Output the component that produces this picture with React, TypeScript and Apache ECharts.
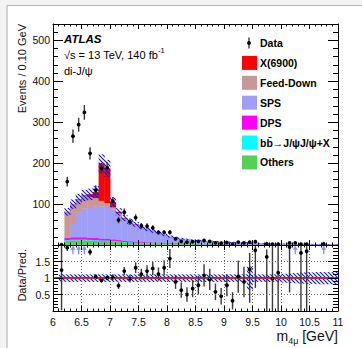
import React, { useEffect, useRef } from 'react';
import * as echarts from 'echarts';

const FONT = '"Liberation Sans", Arial, Helvetica, sans-serif';

// ---- axis ranges ----
const X_MIN = 6;
const X_MAX = 11;
const Y_MAX = 540;
const R_MIN = 0;
const R_MAX = 2;
const BIN_WIDTH = 0.1;

// ---- histogram bins (lower edges, GeV) ----
const binLow = [6.1, 6.2, 6.3, 6.4, 6.5, 6.6, 6.7, 6.8, 6.9, 7.0, 7.1, 7.2, 7.3, 7.4, 7.5, 7.6, 7.7, 7.8, 7.9, 8.0,
  8.1, 8.2, 8.3, 8.4, 8.5, 8.6, 8.7, 8.8, 8.9, 9.0, 9.1, 9.2, 9.3, 9.4, 9.5, 9.6, 9.7, 9.8, 9.9, 10.0,
  10.1, 10.2, 10.3, 10.4, 10.5, 10.6, 10.7, 10.8, 10.9];

// ---- stacked predictions (events / bin) ----
const others = [0.3, 11, 12, 12, 12, 11.5, 11, 10.5, 10, 9.5, 8.5, 7, 6, 5.5, 5, 4.6, 4.3, 4, 3.7, 3.4,
  3.2, 3, 2.8, 2.6, 2.5, 2.3, 2.2, 2.1, 2, 1.9, 1.8, 1.7, 1.6, 1.5, 1.4, 1.3, 1.3, 1.2, 1.1, 1.1,
  1.0, 1.0, 0.9, 0.9, 0.8, 0.8, 0.7, 0.7, 0.7];
const bbbar = [0.1, 1.5, 1.8, 1.8, 1.8, 1.7, 1.6, 1.5, 1.4, 1.3, 1.2, 1.1, 1.0, 0.9, 0.85, 0.8, 0.75, 0.7, 0.65, 0.6,
  0.55, 0.5, 0.48, 0.45, 0.42, 0.4, 0.38, 0.36, 0.34, 0.32, 0.3, 0.28, 0.27, 0.26, 0.25, 0.24, 0.23, 0.22, 0.21, 0.2,
  0.19, 0.18, 0.17, 0.16, 0.15, 0.15, 0.14, 0.14, 0.13];
const dps = [0.1, 5, 5.5, 5.5, 5.5, 5, 5, 4.5, 4, 3.5, 3, 2.6, 2.3, 2, 1.8, 1.6, 1.4, 1.3, 1.2, 1.1,
  1, 0.9, 0.85, 0.8, 0.75, 0.7, 0.65, 0.6, 0.58, 0.55, 0.52, 0.5, 0.48, 0.46, 0.44, 0.42, 0.4, 0.38, 0.36, 0.35,
  0.34, 0.32, 0.3, 0.3, 0.28, 0.27, 0.26, 0.25, 0.24];
const sps = [0.2, 2, 35, 60, 70, 73, 77, 78, 78, 73, 63, 53, 47, 42, 36, 32, 28, 23, 19.5, 16,
  13.5, 11.3, 10, 8.6, 7.7, 7, 6.2, 5.9, 5.3, 4.8, 4.5, 4.1, 3.7, 3.3, 3.0, 2.6, 2.4, 2.1, 1.9, 1.7,
  1.6, 1.4, 1.3, 1.2, 1.1, 1.0, 0.9, 0.85, 0.7];
const feedDown = [0.3, 62, 46, 33, 31, 27, 21, 14, 10, 5.5, 3, 1.5, 0.8, 0.4, 0.2, 0, 0, 0, 0, 0,
  0, 0, 0, 0, 0, 0, 0, 0, 0, 0, 0, 0, 0, 0, 0, 0, 0, 0, 0, 0,
  0, 0, 0, 0, 0, 0, 0, 0, 0];
const x6900 = [0, 0, 0, 0.3, 1, 6, 14, 91, 84, 12, 2.5, 1, 0.6, 0.3, 0.2, 0, 0, 0, 0, 0,
  0, 0, 0, 0, 0, 0, 0, 0, 0, 0, 0, 0, 0, 0, 0, 0, 0, 0, 0, 0,
  0, 0, 0, 0, 0, 0, 0, 0, 0];
// relative total uncertainty (half width) per bin
const bandRel = [0.11, 0.11, 0.11, 0.11, 0.11, 0.11, 0.11, 0.11, 0.11, 0.11, 0.11, 0.11, 0.11, 0.11, 0.11, 0.11, 0.11, 0.11, 0.11, 0.11,
  0.11, 0.11, 0.11, 0.11, 0.11, 0.11, 0.11, 0.11, 0.11, 0.11, 0.11, 0.11, 0.11, 0.35, 0.11, 0.11, 0.11, 0.11, 0.12, 0.13,
  0.14, 0.15, 0.16, 0.17, 0.17, 0.18, 0.18, 0.18, 0.18];

// ---- data ----
const dataX = [6.15, 6.25, 6.35, 6.45, 6.55, 6.65, 6.75, 6.85, 6.95, 7.05, 7.15, 7.25, 7.35, 7.45, 7.55, 7.65, 7.75, 7.85, 7.95, 8.05,
  8.15, 8.25, 8.35, 8.45, 8.55, 8.65, 8.75, 8.85, 8.95, 9.05, 9.15, 9.25, 9.35, 9.45, 9.55, 9.75, 9.85, 9.95, 10.15, 10.25,
  10.35, 10.45, 10.75];
const dataY = [1, 155, 266, 294, 324, 224, 134, 187, 189, 107, 61, 80, 57, 67, 47, 46, 42, 31, 31, 31,
  15, 9, 7, 8, 9, 11, 9, 5, 4, 6, 2, 7, 5, 7, 8, 3, 2, 2, 5, 5,
  2, 2, 3];
const dataErr = [1, 12, 16, 17, 18, 15, 12, 14, 14, 10, 8, 9, 8, 8, 7, 7, 6.5, 5.5, 5.5, 5.5,
  4, 3, 2.6, 2.8, 3, 3.3, 3, 2.2, 2, 2.4, 1.4, 2.6, 2.2, 2.6, 2.8, 1.7, 1.4, 1.4, 2.2, 2.2,
  1.4, 1.4, 1.7];

// ---- ratio panel ----
const ratioX = [6.15, 6.25, 6.65, 6.75, 6.85, 6.95, 7.05, 7.15, 7.25, 7.35, 7.45, 7.55, 7.65, 7.75, 7.85, 7.95, 8.05, 8.15, 8.25, 8.35,
  8.45, 8.55, 8.65, 8.75, 8.85, 8.95, 9.05, 9.15, 9.25, 9.35, 9.45, 9.55, 9.75, 9.85, 9.95, 10.15, 10.35, 10.45];
const ratioY = [1.24, 1.92, 1.79, 1.04, 0.93, 1.0, 1.02, 0.77, 1.21, 0.98, 1.31, 1.12, 1.21, 1.29, 1.12, 1.31, 1.59, 0.88, 0.63, 0.5,
  0.68, 0.78, 1.08, 0.96, 0.58, 0.45, 0.78, 0.31, 1.04, 0.88, 1.26, 1.84, 1.64, 0.98, 1.16, 1.94, 1.76, 1.81];
const ratioLo = [0.02, 1.82, 1.69, 0.97, 0.86, 0.93, 0.93, 0.67, 1.09, 0.86, 1.15, 0.96, 1.03, 1.09, 0.92, 1.08, 1.3, 0.67, 0.4, 0.28,
  0.42, 0.5, 0.74, 0.64, 0.33, 0.2, 0.45, 0.05, 0.55, 0.42, 0.25, 0.7, 0, 0, 0, 0.56, 0, 0];
const ratioHi = [2.2, 2.02, 1.89, 1.11, 1.0, 1.07, 1.11, 0.87, 1.33, 1.1, 1.47, 1.28, 1.39, 1.49, 1.32, 1.54, 1.88, 1.09, 0.86, 0.72,
  0.94, 1.06, 1.42, 1.28, 0.83, 0.7, 1.11, 0.57, 1.53, 1.34, 1.76, 2.6, 1.86, 2.6, 2.6, 2.6, 2.6, 2.6];
const ratioOverflowX = [6.35, 6.45, 6.55, 10.25, 10.75];

// ---- legend / labels ----
const legendItems = [
  { label: 'X(6900)', color: '#ff0000' },
  { label: 'Feed-Down', color: '#c99797' },
  { label: 'SPS', color: '#9f9ff7' },
  { label: 'DPS', color: '#ff00ff' },
  { label: 'bb\u0304\u2192J/\u03c8J/\u03c8+X', color: '#00ffff' },
  { label: 'Others', color: '#55cf55' },
];

const stackDefs = [
  { values: others, color: '#55cf55' },
  { values: bbbar, color: '#00ffff' },
  { values: dps, color: '#ff00ff' },
  { values: sps, color: '#9f9ff7' },
  { values: feedDown, color: '#c99797' },
  { values: x6900, color: '#ff0000' },
];

function makeHatch(): HTMLCanvasElement {
  const s = 4;
  const c = document.createElement('canvas');
  c.width = s;
  c.height = s;
  const ctx = c.getContext('2d');
  if (ctx) {
    ctx.strokeStyle = '#1414d2';
    ctx.lineWidth = 1.1;
    ctx.beginPath();
    ctx.moveTo(-1, -1); ctx.lineTo(s + 1, s + 1);
    ctx.moveTo(-1, s - 1); ctx.lineTo(1, s + 1);
    ctx.moveTo(s - 1, -1); ctx.lineTo(s + 1, 1);
    ctx.stroke();
  }
  return c;
}

function rectRenderer(fill: any) {
  return (_params: any, api: any) => {
    const x0 = api.value(0), x1 = api.value(1), y0 = api.value(2), y1 = api.value(3);
    if (!(y1 > y0)) return null;
    const a = api.coord([x0, y0]);
    const b = api.coord([x1, y1]);
    return {
      type: 'rect',
      shape: { x: a[0], y: b[1], width: b[0] - a[0] + 0.4, height: a[1] - b[1] + 0.3 },
      style: { fill },
    };
  };
}

function buildOption() {
  const hatch = { image: makeHatch(), repeat: 'repeat', imageWidth: 4, imageHeight: 4 };

  const cum = binLow.map(() => 0);
  const stackSeries = stackDefs.map((def) => {
    const data = binLow.map((x0, i) => {
      const base = cum[i];
      const top = base + def.values[i];
      cum[i] = top;
      return [x0, x0 + BIN_WIDTH, base, top];
    });
    return {
      type: 'custom', xAxisIndex: 0, yAxisIndex: 0, clip: true, z: 2, silent: true,
      encode: { x: [0, 1], y: [2, 3] }, data, renderItem: rectRenderer(def.color),
    };
  });
  const total = cum.slice();

  const upperBand = binLow.map((x0, i) => [x0, x0 + BIN_WIDTH, total[i] * (1 - bandRel[i]), total[i] * (1 + bandRel[i])]);
  const lowerBand = binLow.map((x0, i) => [x0, x0 + BIN_WIDTH, 1 - bandRel[i], 1 + bandRel[i]]);

  const dataPts = dataX.map((x, i) => [x, dataY[i], dataY[i] - dataErr[i], dataY[i] + dataErr[i]]);
  const ratioPts = ratioX.map((x, i) => [x, ratioY[i], ratioLo[i], ratioHi[i]]);

  const pointRenderer = (lowClip: number) => (_p: any, api: any) => {
    const x = api.value(0), y = api.value(1), lo = Math.max(lowClip, api.value(2)), hi = api.value(3);
    const p = api.coord([x, y]);
    const l = api.coord([x, lo]);
    const h = api.coord([x, hi]);
    return {
      type: 'group',
      children: [
        { type: 'line', shape: { x1: p[0], y1: l[1], x2: p[0], y2: h[1] }, style: { stroke: '#3a3a3a', lineWidth: 1.4 } },
        { type: 'circle', shape: { cx: p[0], cy: p[1], r: 1.9 }, style: { fill: '#000' } },
      ],
    };
  };

  const arrowRenderer = (_p: any, api: any) => {
    const x = api.value(0);
    const tail = api.coord([x, 1.72]);
    const tip = api.coord([x, 1.99]);
    return {
      type: 'group',
      children: [
        { type: 'line', shape: { x1: tail[0], y1: tail[1], x2: tip[0], y2: tip[1] + 3 }, style: { stroke: '#8a8aff', lineWidth: 1.3 } },
        { type: 'polygon', shape: { points: [[tip[0] - 2.3, tip[1] + 4.5], [tip[0] + 2.3, tip[1] + 4.5], [tip[0], tip[1]]] }, style: { fill: '#8a8aff' } },
      ],
    };
  };

  const tickStyle = { color: '#000', width: 1 };
  const xAxisDef = (gridIndex: number, position: string, showLabel: boolean, split: boolean) => ({
    type: 'value', gridIndex, position, min: X_MIN, max: X_MAX, interval: 0.5, z: 10,
    axisLine: { show: true, onZero: false, lineStyle: tickStyle },
    axisTick: { show: true, inside: true, length: 5, lineStyle: tickStyle },
    minorTick: { show: true, splitNumber: 5, length: 2.5, lineStyle: tickStyle },
    axisLabel: { show: showLabel, margin: 5, fontSize: 10.5, color: '#111', fontFamily: FONT },
    splitLine: { show: split, lineStyle: { color: '#666', type: [1, 2], width: 1 } },
    minorSplitLine: { show: false },
  });
  const yUpper = (position: string, interval: number, len: number, main: boolean, labels: boolean) => ({
    type: 'value', gridIndex: 0, position, min: 0, max: Y_MAX, interval, z: 10,
    axisLine: { show: main, onZero: false, lineStyle: tickStyle },
    axisTick: { show: true, inside: true, length: len, lineStyle: tickStyle },
    minorTick: { show: false },
    axisLabel: {
      show: labels, margin: 3, fontSize: 10.5, color: '#111', fontFamily: FONT, showMaxLabel: false,
      formatter: (v: number) => (v === 0 || v % 100 !== 0 ? '' : String(v)),
    },
    splitLine: { show: false },
  });
  const yLower = (position: string, labels: boolean) => ({
    type: 'value', gridIndex: 1, position, min: R_MIN, max: R_MAX, interval: 0.5, z: 10,
    axisLine: { show: true, onZero: false, lineStyle: tickStyle },
    axisTick: { show: true, inside: true, length: 10, lineStyle: tickStyle },
    minorTick: { show: true, splitNumber: 5, length: 5, lineStyle: tickStyle },
    axisLabel: {
      show: labels, margin: 3, fontSize: 10.5, color: '#111', fontFamily: FONT,
      formatter: (v: number) => (v === R_MIN || v === R_MAX ? '' : String(v)),
    },
    splitLine: { show: labels, lineStyle: { color: '#666', type: [1, 2], width: 1 } },
  });

  const legendX = 242;
  const legendTextX = 260;
  const legendY0 = 43;
  const legendStep = 19.9;

  const graphic: any[] = [
    { type: 'rect', silent: true, shape: { x: 0, y: 0, width: 362, height: 5 }, style: { fill: '#f3f3f3' } },
    { type: 'rect', silent: true, shape: { x: 0, y: 0, width: 6.5, height: 348 }, style: { fill: '#f3f3f3' } },
    { type: 'line', silent: true, shape: { x1: 7, y1: 5.5, x2: 362, y2: 5.5 }, style: { stroke: '#b4b4b4', lineWidth: 1.2 } },
    { type: 'line', silent: true, shape: { x1: 7, y1: 5.5, x2: 7, y2: 348 }, style: { stroke: '#b4b4b4', lineWidth: 1.2 } },
    {
      type: 'text', x: 21.5, y: 24, rotation: Math.PI / 2,
      style: { text: 'Events / 0.10 GeV', font: `11px ${FONT}`, fill: '#111', align: 'right', verticalAlign: 'middle' },
    },
    {
      type: 'text', x: 21.5, y: 249, rotation: Math.PI / 2,
      style: { text: 'Data/Pred.', font: `11px ${FONT}`, fill: '#111', align: 'right', verticalAlign: 'middle' },
    },
    {
      type: 'text', x: 64, y: 38.5,
      style: { text: 'ATLAS', font: `italic bold 11.5px ${FONT}`, fill: '#000', align: 'left', verticalAlign: 'middle' },
    },
    {
      type: 'text', x: 64, y: 55,
      style: {
        text: '{a|\u221as = 13 TeV, 140 fb}{b|-1}', align: 'left', verticalAlign: 'middle',
        rich: {
          a: { fontSize: 11, fontFamily: FONT, fill: '#000', lineHeight: 18 },
          b: { fontSize: 7.5, fontFamily: FONT, fill: '#000', lineHeight: 8, verticalAlign: 'top' },
        },
      },
    },
    {
      type: 'text', x: 64, y: 71,
      style: { text: 'di-J/\u03c8', font: `11px ${FONT}`, fill: '#000', align: 'left', verticalAlign: 'middle' },
    },
    {
      type: 'text', x: 338, y: 336,
      style: {
        text: '{m|m}{s|4\u03bc}{g| [GeV]}', align: 'right', verticalAlign: 'middle',
        rich: {
          m: { fontSize: 14, fontFamily: FONT, fill: '#111', lineHeight: 19 },
          s: { fontSize: 9, fontFamily: FONT, fill: '#111', lineHeight: 9, verticalAlign: 'bottom' },
          g: { fontSize: 14, fontFamily: FONT, fill: '#111', lineHeight: 19 },
        },
      },
    },
    // legend: data
    { type: 'line', silent: true, shape: { x1: 249, y1: legendY0 - 5.5, x2: 249, y2: legendY0 + 5.5 }, style: { stroke: '#3a3a3a', lineWidth: 1.4 } },
    { type: 'circle', silent: true, shape: { cx: 249, cy: legendY0, r: 1.9 }, style: { fill: '#000' } },
    {
      type: 'text', x: legendTextX, y: legendY0,
      style: { text: 'Data', font: `bold 10.5px ${FONT}`, fill: '#000', align: 'left', verticalAlign: 'middle' },
    },
  ];
  legendItems.forEach((it, i) => {
    const cy = legendY0 + legendStep * (i + 1);
    graphic.push({ type: 'rect', silent: true, shape: { x: legendX, y: cy - 7, width: 15, height: 14 }, style: { fill: it.color } });
    graphic.push({
      type: 'text', x: legendTextX, y: cy,
      style: { text: it.label, font: `bold 10.5px ${FONT}`, fill: '#000', align: 'left', verticalAlign: 'middle' },
    });
  });

  return {
    animation: false,
    backgroundColor: '#fff',
    textStyle: { fontFamily: FONT },
    grid: [
      { left: 53, right: 24, top: 24, height: 221, containLabel: false, outerBoundsMode: 'none' },
      { left: 53, right: 24, top: 245, height: 66, containLabel: false, outerBoundsMode: 'none' },
    ],
    xAxis: [
      xAxisDef(0, 'bottom', false, false),
      xAxisDef(0, 'top', false, false),
      xAxisDef(1, 'bottom', true, true),
      xAxisDef(1, 'top', false, false),
    ],
    yAxis: [
      yUpper('left', 100, 10, true, true),
      yUpper('left', 20, 5, false, false),
      yUpper('right', 100, 10, true, false),
      yUpper('right', 20, 5, false, false),
      yLower('left', true),
      yLower('right', false),
    ],
    graphic,
    series: [
      ...stackSeries,
      {
        type: 'custom', xAxisIndex: 0, yAxisIndex: 0, clip: true, z: 3, silent: true,
        encode: { x: [0, 1], y: [2, 3] }, data: upperBand, renderItem: rectRenderer(hatch),
      },
      {
        type: 'custom', xAxisIndex: 0, yAxisIndex: 0, clip: true, z: 4, silent: true,
        encode: { x: 0, y: 1 }, data: dataPts, renderItem: pointRenderer(0),
      },
      {
        type: 'custom', xAxisIndex: 2, yAxisIndex: 4, clip: true, z: 3, silent: true,
        encode: { x: [0, 1], y: [2, 3] }, data: lowerBand, renderItem: rectRenderer(hatch),
      },
      {
        type: 'line', xAxisIndex: 2, yAxisIndex: 4, z: 4, silent: true, symbol: 'none',
        data: [[X_MIN, 1], [X_MAX, 1]], lineStyle: { color: '#e8141c', width: 2 },
      },
      {
        type: 'custom', xAxisIndex: 2, yAxisIndex: 4, clip: true, z: 5, silent: true,
        encode: { x: 0, y: 1 }, data: ratioPts, renderItem: pointRenderer(R_MIN),
      },
      {
        type: 'custom', xAxisIndex: 2, yAxisIndex: 4, clip: false, z: 5, silent: true,
        encode: { x: 0 }, data: ratioOverflowX.map((x) => [x, R_MAX]), renderItem: arrowRenderer,
      },
    ],
  };
}

export default function App() {
  const ref = useRef<HTMLDivElement>(null);
  useEffect(() => {
    if (!ref.current) return;
    const chart = echarts.init(ref.current, undefined, { renderer: 'svg' });
    chart.setOption(buildOption() as any);
    return () => chart.dispose();
  }, []);
  return (
    <div
      ref={ref}
      style={{ position: 'fixed', left: 0, top: 0, width: 362, height: 348, background: '#fff' }}
    />
  );
}
